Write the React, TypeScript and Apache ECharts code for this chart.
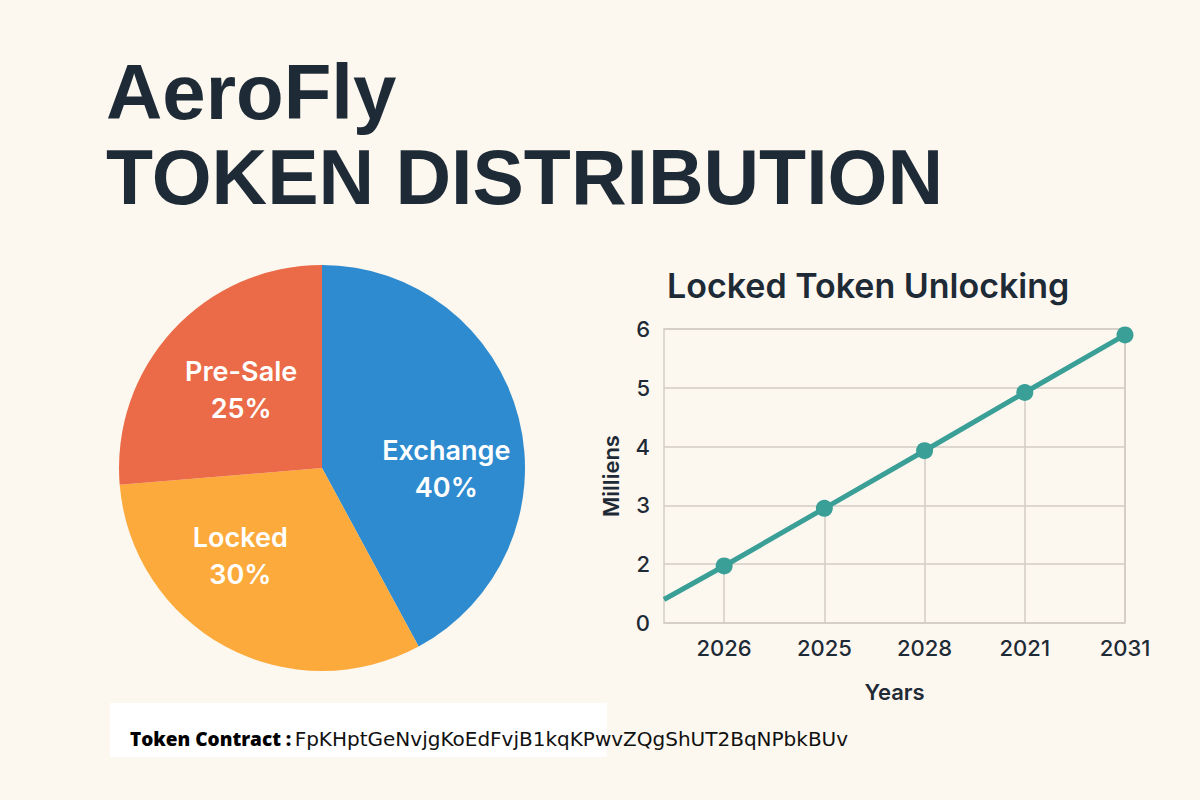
import React, { useEffect, useRef } from "react";
import * as echarts from "echarts";

// Token allocation (percent of supply)
const allocationNames = ["Exchange", "Locked", "Pre-Sale"];
const allocationValues = [40, 30, 25];
const allocationColors = ["#2f8bcf", "#fcaa3b", "#eb6a47"];

// Unlock schedule (millions of tokens)
const yearLabels = ["2026", "2025", "2028", "2021", "2031"];
const unlockValues = [1.97, 2.95, 3.93, 4.92, 5.9];
const unlockStartValue = 1.4; // where the line enters the plot at its left edge
const yTickLabels = ["0", "2", "3", "4", "5", "6"];

const contractLabel = "Token Contract :";
const contractAddress = "FpKHptGeNvjgKoEdFvjB1kqKPwvZQgShUT2BqNPbkBUv";

// Per-slice label nudges (pixels) for the inside labels
const labelNudges = [
  [23, 27],
  [-32, -4],
  [-4, -7],
];

const INK = "#1e2b37";
const GRID = "#d2cdc5";
const TEAL = "#3a9f96";

export default function App() {
  const ref = useRef<HTMLDivElement>(null);

  useEffect(() => {
    if (!ref.current) return;
    const chart = echarts.init(ref.current, null, { renderer: "svg" });

    const xMin = -0.6;
    const xMax = yearLabels.length - 1;

    const lineData: any[] = [
      { value: [xMin, unlockStartValue], symbol: "none" },
      ...unlockValues.map((v, i) => ({ value: [i, v] })),
    ];

    const dropLines = unlockValues.map((v, i) => [
      { coord: [i, 1] },
      { coord: [i, v] },
    ]);

    chart.setOption({
      animation: false,
      backgroundColor: "#fdf8ef",
      textStyle: { fontFamily: "Inter" },
      graphic: [
        {
          type: "text",
          left: 106,
          top: 53,
          style: {
            text: "AeroFly",
            font: "bold 78px 'Liberation Sans'",
            fill: INK,
          },
        },
        {
          type: "text",
          left: 106,
          top: 138,
          style: {
            text: "TOKEN DISTRIBUTION",
            font: "bold 77px 'Liberation Sans'",
            fill: INK,
          },
        },
        {
          type: "text",
          left: 667,
          top: 268,
          style: {
            text: "Locked Token Unlocking",
            font: "600 34px Inter",
            fill: INK,
          },
        },
        {
          type: "rect",
          shape: { x: 110, y: 703, width: 497, height: 54 },
          style: { fill: "#ffffff" },
          z: 1,
        },
        {
          type: "text",
          x: 130,
          y: 739,
          z: 2,
          style: {
            text: `{b|${contractLabel}} {r|${contractAddress}}`,
            verticalAlign: "middle",
            rich: {
              b: {
                fontFamily: "'Open Sans'",
                fontWeight: 800,
                fontSize: 19,
                fill: "#000000",
              },
              r: {
                fontFamily: "'DejaVu Sans'",
                fontWeight: 400,
                fontSize: 20,
                fill: "#111111",
              },
            },
          },
        },
      ],
      grid: {
        left: 664,
        right: 75,
        top: 329,
        bottom: 177,
        show: true,
        borderColor: GRID,
        borderWidth: 1.5,
        backgroundColor: "transparent",
      },
      xAxis: {
        type: "value",
        min: xMin,
        max: xMax,
        name: "Years",
        nameLocation: "middle",
        nameGap: 58,
        nameTextStyle: { fontSize: 22, fontWeight: 600, color: INK },
        axisLine: { show: false },
        axisTick: { show: false },
        splitLine: { show: false },
        axisLabel: {
          customValues: yearLabels.map((_, i) => i),
          formatter: (v: number) => yearLabels[Math.round(v)] ?? "",
          fontSize: 22,
          fontWeight: 500,
          color: INK,
          margin: 14,
        },
      },
      yAxis: {
        type: "value",
        min: 1,
        max: 6,
        interval: 1,
        name: "Milliens",
        nameLocation: "middle",
        nameRotate: 90,
        nameGap: 42,
        nameTextStyle: { fontSize: 22, fontWeight: 600, color: INK },
        axisLine: { show: false },
        axisTick: { show: false },
        splitLine: { show: true, lineStyle: { color: GRID, width: 1.5 } },
        axisLabel: {
          formatter: (v: number) => yTickLabels[Math.round(v) - 1] ?? "",
          fontSize: 22,
          fontWeight: 500,
          color: INK,
          margin: 14,
        },
      },
      series: [
        {
          type: "pie",
          center: [322, 468],
          radius: 203,
          startAngle: 90,
          clockwise: true,
          silent: true,
          data: allocationNames.map((name, i) => ({
            name,
            value: allocationValues[i],
            itemStyle: { color: allocationColors[i] },
          })),
          label: {
            show: true,
            position: "inside",
            formatter: (p: any) => `${p.name}\n${p.value}%`,
            color: "#ffffff",
            fontSize: 27,
            fontWeight: 600,
            lineHeight: 37,
            fontFamily: "Inter",
          },
          labelLine: { show: false },
          labelLayout: (p: any) => ({
            dx: labelNudges[p.dataIndex][0],
            dy: labelNudges[p.dataIndex][1],
          }),
        },
        {
          type: "line",
          data: lineData,
          symbol: "circle",
          symbolSize: 17,
          lineStyle: { color: TEAL, width: 5 },
          itemStyle: { color: TEAL },
          z: 3,
          markLine: {
            silent: true,
            symbol: "none",
            label: { show: false },
            lineStyle: { color: GRID, width: 1.5, type: "solid" },
            data: dropLines,
            z: 1,
          },
        },
      ],
    });

    return () => chart.dispose();
  }, []);

  return (
    <div
      ref={ref}
      style={{ position: "fixed", left: 0, top: 0, width: 1200, height: 800 }}
    />
  );
}
